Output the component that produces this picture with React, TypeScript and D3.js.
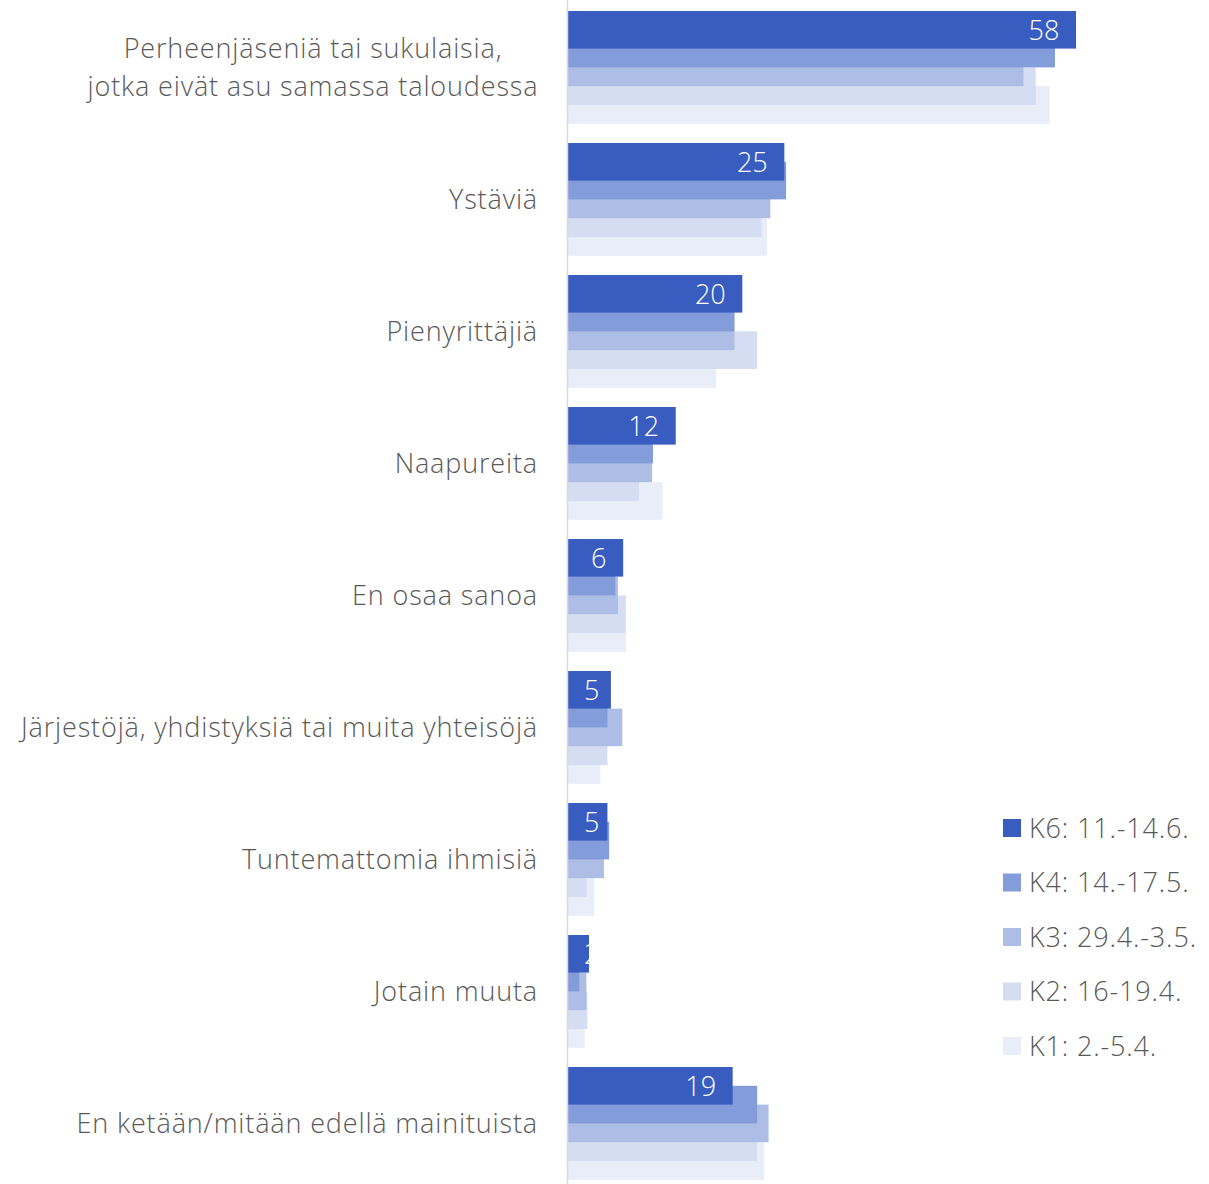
import * as d3 from "d3";

const categories = [
  ["Perheenjäseniä tai sukulaisia,", "jotka eivät asu samassa taloudessa"],
  ["Ystäviä"],
  ["Pienyrittäjiä"],
  ["Naapureita"],
  ["En osaa sanoa"],
  ["Järjestöjä, yhdistyksiä tai muita yhteisöjä"],
  ["Tuntemattomia ihmisiä"],
  ["Jotain muuta"],
  ["En ketään/mitään edellä mainituista"],
];

const seriesNames = ["K6: 11.-14.6.", "K4: 14.-17.5.", "K3: 29.4.-3.5.", "K2: 16-19.4.", "K1: 2.-5.4."];
const seriesColors = ["#385cc0", "#839ddb", "#adbde6", "#d5ddf2", "#e9edf8"];

const k6 = [58, 24.7, 19.9, 12.3, 6.3, 4.9, 4.5, 2.4, 18.8];
const k4 = [55.6, 24.9, 19.0, 9.7, 5.4, 4.5, 4.7, 1.3, 21.6];
const k3 = [52.0, 23.1, 19.0, 9.6, 5.7, 6.2, 4.1, 2.1, 22.9];
const k2 = [53.4, 22.1, 21.6, 8.1, 6.6, 4.5, 2.1, 2.2, 21.6];
const k1 = [55.0, 22.7, 16.9, 10.8, 6.6, 3.7, 3.0, 1.9, 22.4];
const seriesValues = [k6, k4, k3, k2, k1];

const W = 1209;
const H = 1184;
const FONT = "'Open Sans', 'Noto Sans', sans-serif";
const TEXT = "#595959";
const FS = 27;
const LS = 0.85;

export default function App() {
  const x = d3.scaleLinear().domain([0, 58]).range([568, 1076]);
  const y = d3
    .scaleBand<number>()
    .domain(d3.range(categories.length))
    .range([11, 1179.8])
    .paddingInner(0.1455)
    .paddingOuter(0);
  const barH = y.bandwidth() / 3;
  const inner = d3
    .scalePoint<number>()
    .domain(d3.range(seriesNames.length))
    .range([0, y.bandwidth() - barH]);

  const digitW = 15.2;
  // draw K1 first so K6 ends up on top
  const order = d3.range(seriesNames.length).reverse();

  return (
    <svg
      width={W}
      height={H}
      style={{ position: "absolute", left: 0, top: 0 }}
      fontFamily={FONT}
      fontWeight={300}
    >
      <defs>
        {k6.map((v, i) => (
          <clipPath id={`clip${i}`} key={i}>
            <rect x={x(0)} y={(y(i) ?? 0) + (inner(0) ?? 0)} width={x(v) - x(0)} height={barH} />
          </clipPath>
        ))}
      </defs>

      {order.map((s) => (
        <g key={s} fill={seriesColors[s]}>
          {seriesValues[s].map((v, i) => (
            <rect
              key={i}
              x={x(0)}
              y={(y(i) ?? 0) + (inner(s) ?? 0)}
              width={x(v) - x(0)}
              height={barH}
            />
          ))}
        </g>
      ))}

      {/* value labels for K6 */}
      {k6.map((v, i) => {
        const label = String(Math.round(v));
        const w = label.length * digitW;
        const start = Math.max(x(0) + 16, x(v) - 17 - w);
        return (
          <text
            key={i}
            x={start}
            y={(y(i) ?? 0) + (inner(0) ?? 0) + barH / 2}
            dy="0.36em"
            fill="#fff"
            fontSize={FS}
            clipPath={`url(#clip${i})`}
          >
            {label}
          </text>
        );
      })}

      <line x1={567.5} x2={567.5} y1={0} y2={H} stroke="#d9d9d9" strokeWidth={1.5} />

      {/* category labels */}
      {categories.map((lines, i) => {
        const cy = (y(i) ?? 0) + y.bandwidth() / 2;
        const lh = 38;
        const ax = lines.length > 1 ? 313 : 538;
        return (
          <text
            key={i}
            fontSize={FS}
            fill={TEXT}
            letterSpacing={LS}
            textAnchor={lines.length > 1 ? "middle" : "end"}
          >
            {lines.map((t, j) => (
              <tspan
                key={j}
                x={ax}
                y={cy + (j - (lines.length - 1) / 2) * lh}
                dy="0.36em"
              >
                {t}
              </tspan>
            ))}
          </text>
        );
      })}

      {/* legend */}
      {seriesNames.map((n, s) => {
        const cy = 828 + s * 54.5;
        return (
          <g key={s}>
            <rect x={1003} y={cy - 9} width={18} height={18} fill={seriesColors[s]} />
            <text x={1029} y={cy} dy="0.36em" fontSize={FS} fill={TEXT} letterSpacing={LS}>
              {n}
            </text>
          </g>
        );
      })}
    </svg>
  );
}
